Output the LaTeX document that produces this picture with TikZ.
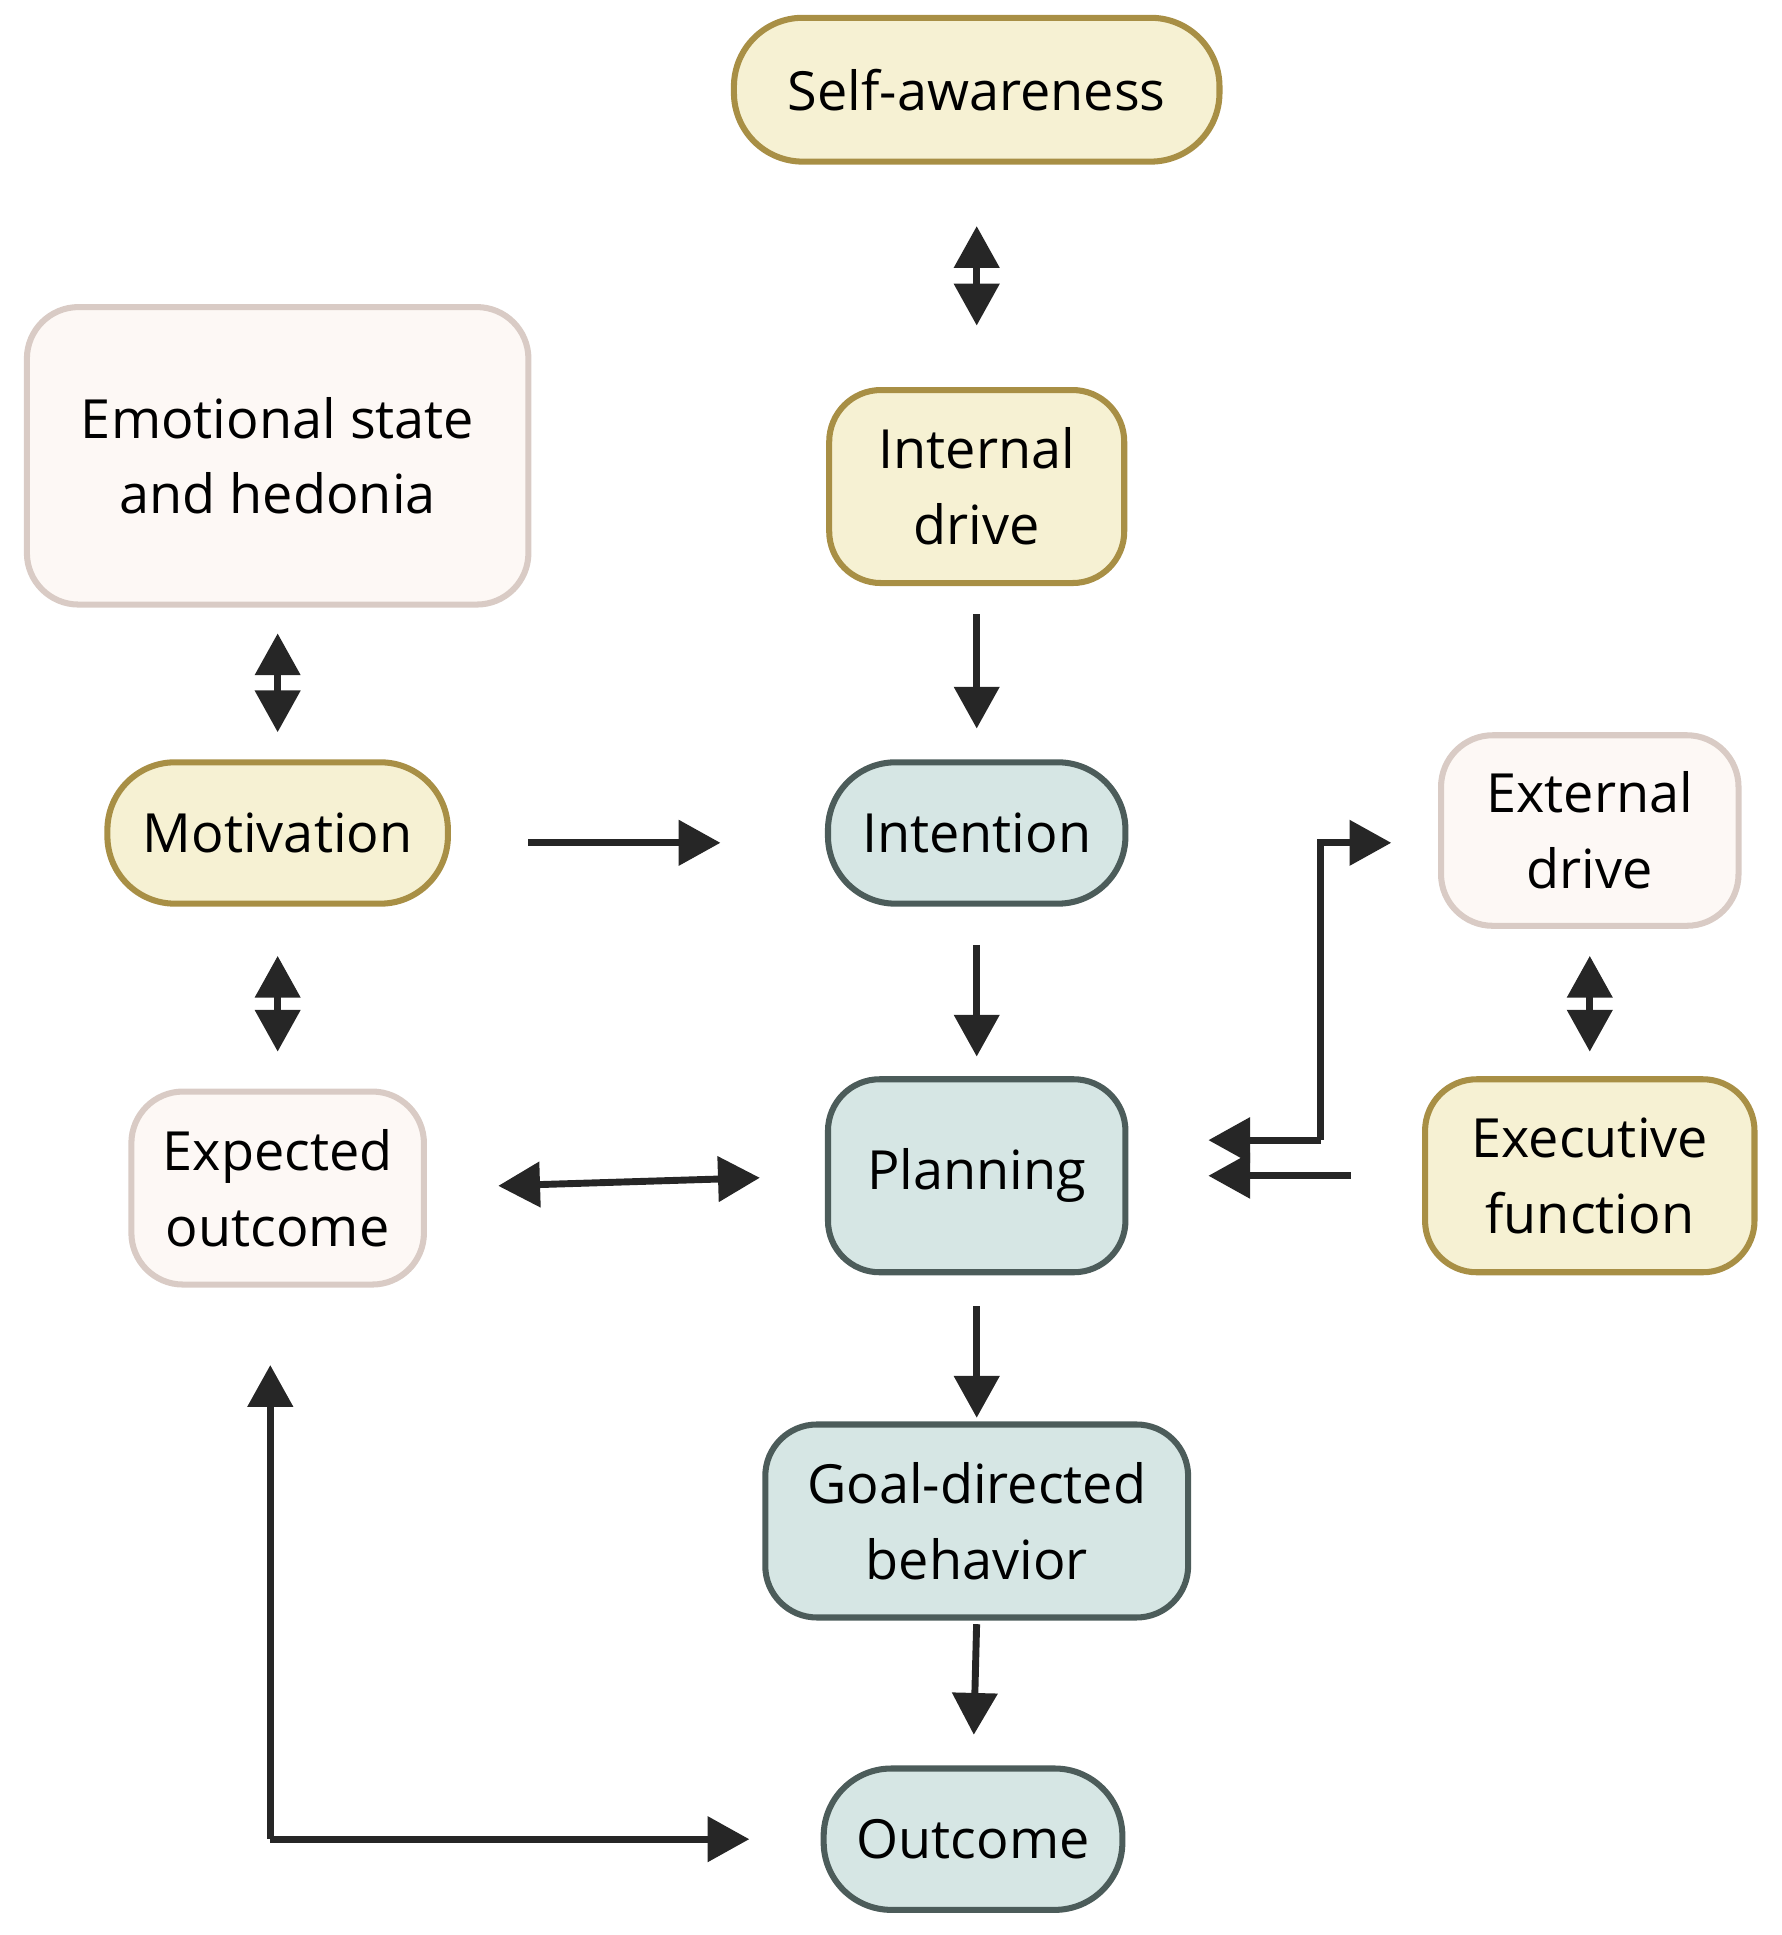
\documentclass[tikz,border=0pt]{standalone}
\usepackage{fontspec}
\setmainfont{Open Sans}
\usetikzlibrary{arrows.meta}
\definecolor{yfill}{HTML}{F6F1D3}\definecolor{ydraw}{HTML}{A88F45}
\definecolor{pfill}{HTML}{FDF8F5}\definecolor{pdraw}{HTML}{D9CBC5}
\definecolor{tfill}{HTML}{D6E6E4}\definecolor{tdraw}{HTML}{4C5C5A}
\definecolor{ar}{HTML}{262626}
\begin{document}
\begin{tikzpicture}[x=0.01cm,y=-0.01cm,
 box/.style={rectangle,rounded corners=0.42cm,line width=1.4pt,align=center,font=\fontsize{12.5}{17.5}\selectfont,inner sep=0pt},
 Y/.style={box,fill=yfill,draw=ydraw},
 P/.style={box,fill=pfill,draw=pdraw},
 T/.style={box,fill=tfill,draw=tdraw},
 a/.style={line width=1.6pt,draw=ar,-{Triangle[length=0.34cm,width=0.36cm]}},
 aa/.style={a,{Triangle[length=0.34cm,width=0.36cm]}-{Triangle[length=0.34cm,width=0.36cm]}}]
\useasboundingbox (0,0) rectangle (1450,1575);
\node[Y,minimum width=3.95cm,minimum height=1.17cm,rounded corners=0.56cm] (self) at (795,73) {Self-awareness};
\node[Y,minimum width=2.4cm,minimum height=1.57cm] (int) at (795,396) {Internal\\drive};
\node[P,minimum width=4.08cm,minimum height=2.42cm] (emo) at (226,371) {Emotional state\\and hedonia};
\node[Y,minimum width=2.77cm,minimum height=1.15cm,rounded corners=0.55cm] (mot) at (226,678) {Motivation};
\node[T,minimum width=2.42cm,minimum height=1.15cm,rounded corners=0.55cm] (inten) at (795,678) {Intention};
\node[P,minimum width=2.42cm,minimum height=1.55cm] (ext) at (1294,676) {External\\drive};
\node[Y,minimum width=2.68cm,minimum height=1.57cm] (exe) at (1294,957) {Executive\\function};
\node[P,minimum width=2.38cm,minimum height=1.57cm] (exp) at (226,967) {Expected\\outcome};
\node[T,minimum width=2.42cm,minimum height=1.57cm] (plan) at (795,957) {Planning};
\node[T,minimum width=3.44cm,minimum height=1.57cm] (goal) at (795,1238) {Goal-directed\\behavior};
\node[T,minimum width=2.43cm,minimum height=1.15cm,rounded corners=0.55cm] (out) at (792,1497) {Outcome};
\coordinate (bend1) at (1075,928);
\coordinate (bend2) at (1075,686);
\coordinate (ob) at (220,1497);
\draw[aa,shorten <=0.5cm,shorten >=0.5cm] (self.south) -- (int.north);
\draw[aa,shorten <=0.21cm,shorten >=0.22cm] (emo.south) -- (mot.north);
\draw[a,shorten <=0.63cm,shorten >=0.85cm] (mot.east |- 0,686) -- (inten.west |- 0,686);
\draw[a,shorten <=0.23cm,shorten >=0.25cm] (int.south) -- (inten.north);
\draw[a,shorten <=0.31cm,shorten >=0.16cm] (inten.south) -- (plan.north);
\draw[aa,shorten <=0.4cm,shorten >=0.3cm] (mot.south) -- (exp.north);
\draw[aa,shorten <=0.22cm,shorten >=0.2cm] (ext.south) -- (exe.north);
\draw[aa,shorten <=0.58cm,shorten >=0.53cm] (exp.east) -- (plan.west);
\draw[a,shorten >=0.38cm] (bend1) -- (bend2) -- (ext.west |- bend2);
\draw[a,shorten >=0.65cm] (bend1) -- (plan.east |- bend1);
\draw[a,shorten <=0.58cm,shorten >=0.65cm] (exe.west) -- (plan.east);
\draw[a,shorten <=0.25cm,shorten >=0.03cm] (plan.south) -- (goal.north);
\draw[a,shorten <=0.03cm,shorten >=0.25cm] (goal.south) -- (out.north);
\draw[a,shorten >=0.58cm] (ob) -- (out.west |- ob);
\draw[a,shorten >=0.63cm] (ob) -- (ob |- exp.south);
\end{tikzpicture}
\end{document}
